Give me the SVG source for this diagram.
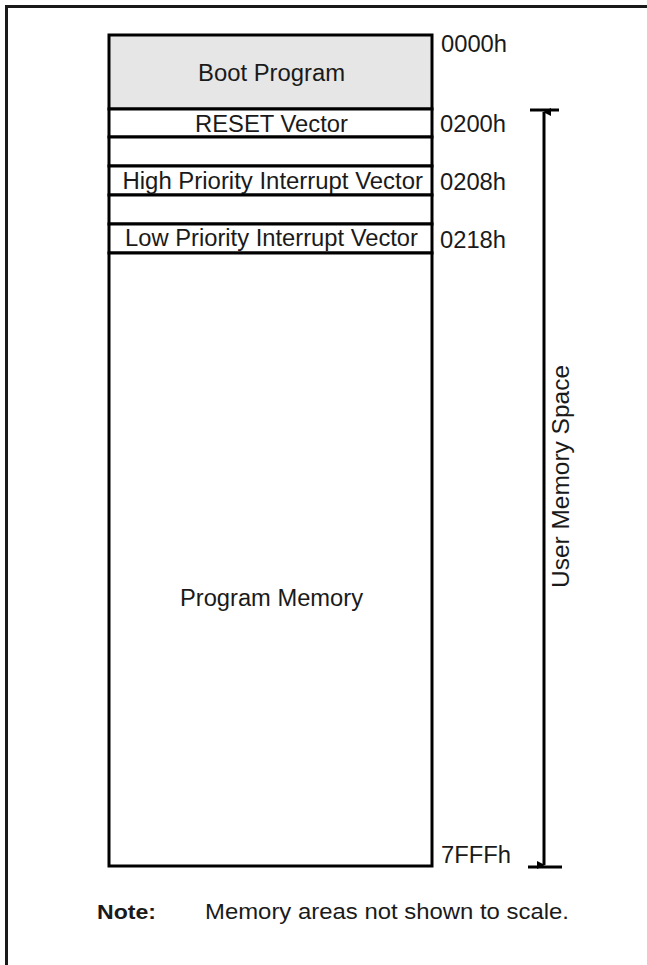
<svg xmlns="http://www.w3.org/2000/svg" width="647" height="965" viewBox="0 0 647 965">
<defs>
<style>
text{font-family:"Liberation Sans",Arial,sans-serif;font-size:23px;fill:#1a1a1a}
.row{fill:#fff;stroke:#000;stroke-width:3}
.bar{stroke:#000;stroke-width:3;fill:none}
.frame{stroke:#1a1a1a;stroke-width:3;fill:none}
</style>
<marker id="ah" markerWidth="8" markerHeight="8" refX="4" refY="1" orient="auto-start-reverse" markerUnits="userSpaceOnUse" viewBox="0 0 8 8">
<path d="M0,8 L4,0 L8,8 Z" fill="#000"/>
</marker>
</defs>
<rect width="647" height="965" fill="#fff"/>
<path class="frame" d="M6.5,965 V6.5 H647"/>
<g id="boot">
<rect class="row" x="109" y="35" width="323" height="74" style="fill:#e6e6e6"/>
<text x="198" y="81" textLength="147" lengthAdjust="spacingAndGlyphs">Boot Program</text>
<text x="441" y="52" textLength="66" lengthAdjust="spacingAndGlyphs">0000h</text>
</g>
<g id="reset">
<rect class="row" x="109" y="109" width="323" height="28"/>
<text x="195" y="131.5" textLength="153" lengthAdjust="spacingAndGlyphs">RESET Vector</text>
<text x="440" y="131.5" textLength="66" lengthAdjust="spacingAndGlyphs">0200h</text>
</g>
<g id="gap1"><rect class="row" x="109" y="137" width="323" height="29"/></g>
<g id="high">
<rect class="row" x="109" y="166" width="323" height="29"/>
<text x="122.5" y="189" textLength="300.5" lengthAdjust="spacingAndGlyphs">High Priority Interrupt Vector</text>
<text x="440" y="190" textLength="66" lengthAdjust="spacingAndGlyphs">0208h</text>
</g>
<g id="gap2"><rect class="row" x="109" y="195" width="323" height="29"/></g>
<g id="low">
<rect class="row" x="109" y="224" width="323" height="29"/>
<text x="125" y="246" textLength="293" lengthAdjust="spacingAndGlyphs">Low Priority Interrupt Vector</text>
<text x="440" y="248" textLength="66" lengthAdjust="spacingAndGlyphs">0218h</text>
</g>
<g id="program">
<rect class="row" x="109" y="253" width="323" height="613"/>
<text x="180" y="606" textLength="183" lengthAdjust="spacingAndGlyphs">Program Memory</text>
<text x="441" y="863" textLength="70" lengthAdjust="spacingAndGlyphs">7FFFh</text>
</g>
<g id="connectors">
<line class="bar" x1="544" y1="112" x2="544" y2="865" marker-start="url(#ah)" marker-end="url(#ah)"/>
<line class="bar" x1="530" y1="110" x2="559" y2="110"/>
<line class="bar" x1="528" y1="867" x2="562" y2="867"/>
</g>
<g id="userspace">
<text transform="translate(569,588) rotate(-90)" textLength="223" lengthAdjust="spacingAndGlyphs">User Memory Space</text>
</g>
<g id="note">
<text x="97" y="919" style="font-weight:bold;font-size:21px" textLength="59" lengthAdjust="spacingAndGlyphs">Note:</text>
<text x="205" y="919" style="font-size:22px" textLength="364" lengthAdjust="spacingAndGlyphs">Memory areas not shown to scale.</text>
</g>
</svg>
